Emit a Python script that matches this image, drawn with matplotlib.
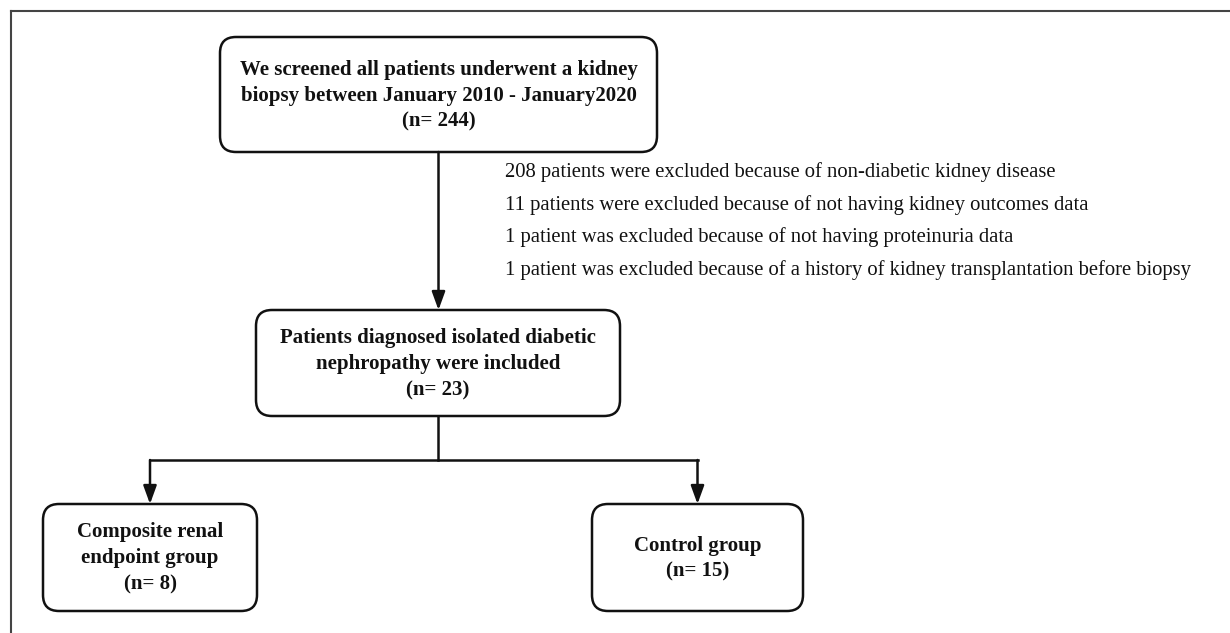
import matplotlib
matplotlib.use("Agg")
import matplotlib.pyplot as plt
from matplotlib.patches import FancyBboxPatch

# chart content
screened_text = "We screened all patients underwent a kidney\nbiopsy between January 2010 - January2020"
screened_n = 244
included_text = "Patients diagnosed isolated diabetic\nnephropathy were included"
included_n = 23
group_names = ["Composite renal\nendpoint group", "Control group"]
group_n = [8, 15]
exclusions = [
    "208 patients were excluded because of non-diabetic kidney disease",
    "11 patients were excluded because of not having kidney outcomes data",
    "1 patient was excluded because of not having proteinuria data",
    "1 patient was excluded because of a history of kidney transplantation before biopsy",
]

# layout in pixel coordinates (x0, y0, x1, y1)
box_screened = (220, 37, 657, 152)
box_included = (256, 310, 620, 416)
box_groups = [(43, 504, 257, 611), (592, 504, 803, 611)]

FONT = "Liberation Serif"


def draw_box(ax, rect, text):
    x0, y0, x1, y1 = rect
    r = 16
    patch = FancyBboxPatch((x0 + r, y0 + r), (x1 - x0) - 2 * r, (y1 - y0) - 2 * r,
                           boxstyle="round,pad=%d,rounding_size=%d" % (r, r),
                           fc="white", ec="#111111", lw=1.8)
    ax.add_patch(patch)
    ax.text((x0 + x1) / 2, (y0 + y1) / 2 + 1, text, ha="center", va="center",
            fontsize=15, fontweight="bold", family=FONT, color="#111111",
            linespacing=1.4)


def arrow(ax, x, y0, y1):
    ax.annotate("", xy=(x, y1), xytext=(x, y0),
                arrowprops=dict(arrowstyle="-|>,head_length=1.1,head_width=0.4",
                                color="#111111", lw=1.8, shrinkA=0, shrinkB=0))


def main():
    fig = plt.figure(figsize=(12.3, 6.33), dpi=100)
    ax = fig.add_axes([0, 0, 1, 1])
    ax.set_xlim(0, 1230)
    ax.set_ylim(633, 0)
    ax.axis("off")

    # outer frame (top and left only)
    ax.plot([11, 1230], [11, 11], color="#444444", lw=1.5)
    ax.plot([11, 11], [11, 633], color="#444444", lw=1.5)

    draw_box(ax, box_screened, "%s\n(n= %d)" % (screened_text, screened_n))
    draw_box(ax, box_included, "%s\n(n= %d)" % (included_text, included_n))
    for rect, name, n in zip(box_groups, group_names, group_n):
        draw_box(ax, rect, "%s\n(n= %d)" % (name, n))

    cx = (box_screened[0] + box_screened[2]) / 2
    arrow(ax, cx, box_screened[3], box_included[1])

    for i, line in enumerate(exclusions):
        ax.text(505, 172 + i * 32.7, line, ha="left", va="center",
                fontsize=14.9, family=FONT, color="#111111")

    # split to the two groups
    split_y = 460
    cx2 = (box_included[0] + box_included[2]) / 2
    ax.plot([cx2, cx2], [box_included[3], split_y], color="#111111", lw=1.8)
    gx = [(r[0] + r[2]) / 2 for r in box_groups]
    ax.plot([gx[0], gx[1]], [split_y, split_y], color="#111111", lw=1.8)
    for x, rect in zip(gx, box_groups):
        arrow(ax, x, split_y, rect[1])

    fig.savefig("out.png", dpi=100, facecolor="white")


if __name__ == "__main__":
    main()
